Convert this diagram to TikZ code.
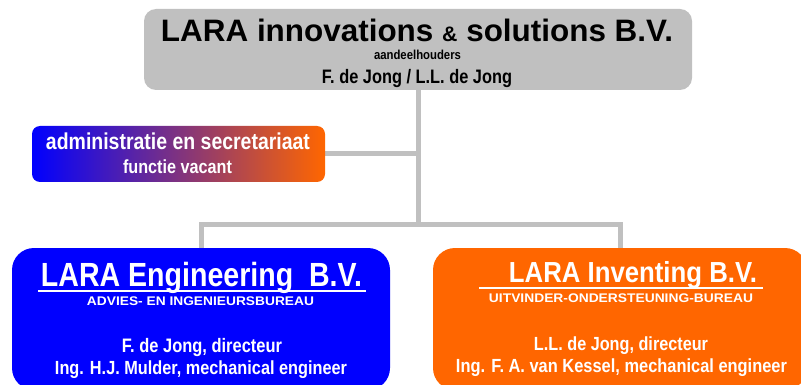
\documentclass[tikz,border=0pt]{standalone}
\usepackage{fontspec}
\setmainfont{Liberation Sans}
\usepackage{graphicx}
\usetikzlibrary{backgrounds}
\definecolor{lgray}{HTML}{C0C0C0}
\definecolor{lblue}{HTML}{0000FF}
\definecolor{lorange}{HTML}{FF6600}
\definecolor{lmid}{RGB}{200,82,170}
\newcommand\fitw[2]{\resizebox{#1pt}{\height}{#2}}
\newcommand\fsz[1]{\fontsize{#1}{#1}\selectfont\bfseries}
\tikzset{
  box/.style={inner sep=0pt, draw=none},
  txt/.style={inner sep=0pt, anchor=base},
  wtxt/.style={txt, text=white},
  conn/.style={draw=lgray, line width=5pt},
  uline/.style={draw=white, line width=2pt}
}
\begin{document}
\begin{tikzpicture}[x=1pt,y=-1pt]
\useasboundingbox (0,0) rectangle (801,385);
\clip (0,0) rectangle (801,385);
% boxes
\node[box, fill=lgray, rounded corners=12pt, minimum width=548pt, minimum height=81pt] (top) at (418,49.5) {};
\node[box, left color=lblue, middle color=lmid, right color=lorange, rounded corners=8pt, minimum width=293pt, minimum height=56pt] (adm) at (178.5,154) {};
\node[box, fill=lblue, rounded corners=22pt, minimum width=378pt, minimum height=142pt] (eng) at (201,319) {};
\node[box, fill=lorange, rounded corners=22pt, minimum width=374pt, minimum height=142pt] (inv) at (620,319) {};
% connectors
\coordinate (jn) at (418,224.5);
\coordinate (ja) at (418,154);
\begin{scope}[on background layer]
\draw[conn] (top.south) -- (jn);
\draw[conn] (adm.east) -- (ja);
\draw[conn] (jn) -| (eng.north);
\draw[conn] (jn) -| (inv.north);
\end{scope}
% top texts
\node[txt] (t1) at (417,41.7) {\fitw{512}{\fsz{31}LARA innovations {\fsz{21}\&} solutions B.V.}};
\node[txt] (t2) at (417.5,60) {\fitw{87}{\fsz{13}aandeelhouders}};
\node[txt] (t3) at (417,84) {\fitw{190}{\fsz{19.5}F. de Jong / L.L. de Jong}};
% admin texts
\node[wtxt] (a1) at (178,150) {\fitw{264}{\fsz{23}administratie en secretariaat}};
\node[wtxt] (a2) at (177.5,174) {\fitw{109}{\fsz{19}functie vacant}};
% engineering texts
\node[wtxt] (e1) at (201.5,286) {\fitw{321}{\fsz{33.5}LARA Engineering\ \ B.V.}};
\coordinate (eu1) at (38,290.7);
\coordinate (eu2) at (366,290.7);
\draw[uline] (eu1) -- (eu2);
\node[wtxt] (e2) at (200.5,305.7) {\fitw{227}{\fsz{12.5}ADVIES- EN INGENIEURSBUREAU}};
\node[wtxt] (e3) at (202,352) {\fitw{160}{\fsz{19.5}F. de Jong, directeur}};
\node[wtxt] (e4) at (201,374) {\fitw{292}{\fsz{19}Ing. H.J. Mulder, mechanical engineer}};
% inventing texts
\node[wtxt] (i1) at (633,282) {\fitw{248}{\fsz{29}LARA Inventing B.V.}};
\coordinate (iu1) at (479,288);
\coordinate (iu2) at (763,288);
\draw[uline] (iu1) -- (iu2);
\node[wtxt] (i2) at (621,302) {\fitw{264}{\fsz{12.5}UITVINDER-ONDERSTEUNING-BUREAU}};
\node[wtxt] (i3) at (621,350) {\fitw{174}{\fsz{19}L.L. de Jong, directeur}};
\node[wtxt] (i4) at (621.5,372) {\fitw{331}{\fsz{19}Ing. F. A. van Kessel, mechanical engineer}};
\end{tikzpicture}
\end{document}
